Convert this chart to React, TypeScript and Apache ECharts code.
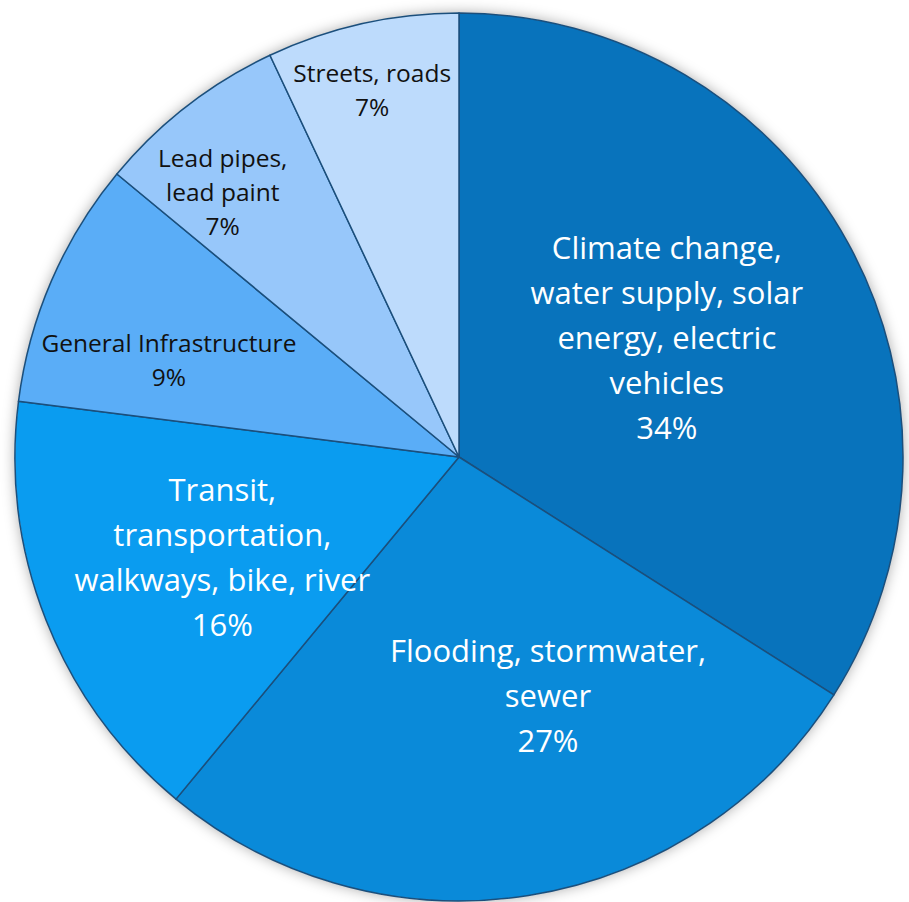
import React, { useEffect, useRef } from "react";
import * as echarts from "echarts";

const categories = [
  "Climate change,\nwater supply, solar\nenergy, electric\nvehicles",
  "Flooding, stormwater,\nsewer",
  "Transit,\ntransportation,\nwalkways, bike, river",
  "General Infrastructure",
  "Lead pipes,\nlead paint",
  "Streets, roads",
];
const values = [34, 27, 16, 9, 7, 7];
const colors = ["#0873BC", "#0A8AD9", "#0A9CF0", "#5AADF7", "#97C7FA", "#BDDBFC"];
const labelColors = ["#ffffff", "#ffffff", "#ffffff", "#111111", "#111111", "#111111"];
// label placement: [radius fraction, angle delta in degrees]
const labelPlace: [number, number][] = [
  [0.54, -1.1],
  [0.572, -11.5],
  [0.578, -1.1],
  [0.689, -4.9],
  [0.8, -3.9],
  [0.85, -0.7],
];

const CX = 459;
const CY = 457;
const R = 444;

export default function App() {
  const ref = useRef<HTMLDivElement>(null);
  useEffect(() => {
    if (!ref.current) return;
    const chart = echarts.init(ref.current, undefined, { renderer: "svg" });
    const total = values.reduce((a, b) => a + b, 0);
    const mids: number[] = [];
    let acc = 0;
    values.forEach((v) => {
      mids.push(((acc + v / 2) / total) * 360);
      acc += v;
    });
    chart.setOption({
      animation: false,
      backgroundColor: "#ffffff",
      series: [
        {
          type: "pie",
          silent: true,
          center: [CX, CY],
          radius: [0, R],
          z: 1,
          label: { show: false },
          labelLine: { show: false },
          itemStyle: {
            color: "#ffffff",
            shadowBlur: 14,
            shadowColor: "rgba(0,0,0,0.35)",
          },
          data: [{ value: 1, name: "shadow" }],
        },
        {
          type: "pie",
          center: [CX, CY],
          radius: [0, R],
          startAngle: 90,
          clockwise: true,
          z: 2,
          itemStyle: { borderColor: "#1B4F7C", borderWidth: 1.5 },
          labelLine: { show: false },
          label: {
            show: true,
            position: "inside",
            fontFamily: "Open Sans",
            fontWeight: 500,
          },
          labelLayout: (params: any) => {
            const i = params.dataIndex;
            const [rf, da] = labelPlace[i];
            const a = ((mids[i] + da) * Math.PI) / 180;
            return {
              x: CX + R * rf * Math.sin(a),
              y: CY - R * rf * Math.cos(a),
              align: "center",
              verticalAlign: "middle",
            };
          },
          data: values.map((v, i) => ({
            value: v,
            name: categories[i],
            itemStyle: { color: colors[i] },
            label: {
              formatter: "{b}\n{c}%",
              color: labelColors[i],
              fontSize: i < 3 ? 31 : 24.5,
              lineHeight: i < 3 ? 45 : 34,
            },
          })),
        },
      ],
    });
    return () => chart.dispose();
  }, []);
  return (
    <div
      ref={ref}
      style={{ position: "fixed", left: 0, top: 0, width: 909, height: 902 }}
    />
  );
}
